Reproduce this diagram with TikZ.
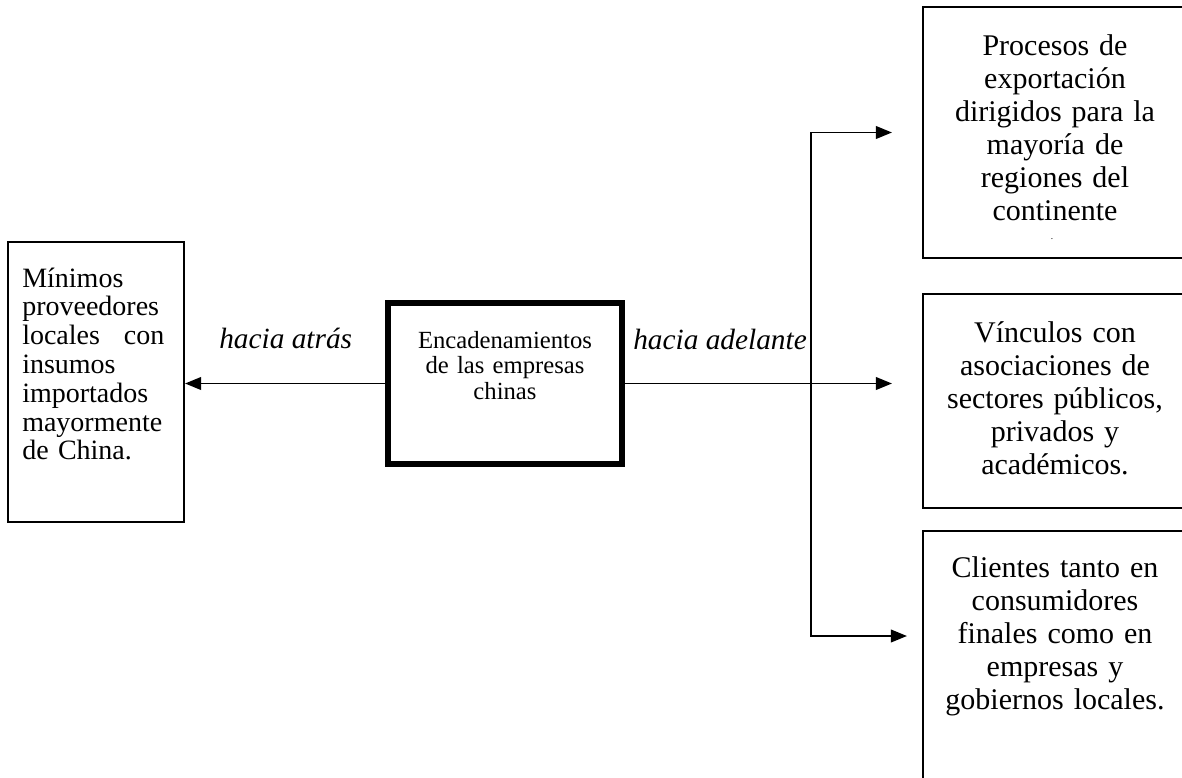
\documentclass[tikz,border=0pt]{standalone}
\usepackage{fontspec}
\setmainfont{Liberation Serif}
\usetikzlibrary{arrows.meta}

\begin{document}
\begin{tikzpicture}[x=0.75pt,y=-0.75pt,
  frame/.style={draw, line width=1.6pt, inner sep=0pt},
  mainframe/.style={draw, line width=4pt, inner sep=0pt},
  sidetext/.style={anchor=base, inner sep=0pt, text width=170pt, align=center,
    font=\fontsize{22.5}{24.9}\selectfont},
  lefttext/.style={anchor=base west, inner sep=0pt, text width=106.5pt, align=left,
    font=\fontsize{21}{21.6}\selectfont},
  maintext/.style={anchor=base, inner sep=0pt, text width=170pt, align=center,
    font=\fontsize{18.5}{19.2}\selectfont},
  linklabel/.style={anchor=base west, inner sep=0pt, font=\fontsize{22}{24}\selectfont\itshape},
  tip/.style={-{Triangle[length=12pt,width=9.5pt]}},
  link/.style={line width=1.3pt}
]
\useasboundingbox (0,0) rectangle (1182,778);
\clip (0,0) rectangle (1182,778);

% boxes
\node[frame, minimum width=132pt, minimum height=210pt] (sup) at (96,382) {};
\node[mainframe, minimum width=175.5pt, minimum height=120.75pt] (enc) at (505,383.5) {};
\node[frame, minimum width=198.75pt, minimum height=188.25pt] (exp) at (1055.5,132.5) {};
\node[frame, minimum width=198.75pt, minimum height=160.5pt] (vin) at (1055.5,401) {};
\node[frame, minimum width=198.75pt, minimum height=202.5pt] (cli) at (1055.5,666) {};

% box texts
\node[lefttext] (supt) at (22,287) {M\'inimos\\ proveedores\\ locales\hfill con\\ insumos\\ importados\\ mayormente\\ de China.};
\node[maintext] (enct) at (505,348) {Encadenamientos\\ de las empresas\\ chinas};
\node[sidetext] (expt) at (1055,55) {Procesos de\\ exportaci\'on\\ dirigidos para la\\ mayor\'ia de\\ regiones del\\ continente};
\node[anchor=base, inner sep=0pt, font=\fontsize{7}{7}\selectfont] (expdot) at (1052,239) {.};
\node[sidetext] (vint) at (1055,342) {V\'inculos con\\ asociaciones de\\ sectores p\'ublicos,\\ privados y\\ acad\'emicos.};
\node[sidetext] (clit) at (1055,577) {Clientes tanto en\\ consumidores\\ finales como en\\ empresas y\\ gobiernos locales.};

% link labels
\node[linklabel] (back) at (219,348) {hacia atr\'as};
\node[linklabel] (fwd) at (633,349) {hacia adelante};

% branch points
\coordinate (jt) at (811,132.5);
\coordinate (jb) at (811,636);

% connectors
\draw[link, tip] (enc.west) -- (enc.west -| sup.east);
\draw[link, tip, shorten >=22.5pt] (enc.east) -- (enc.east -| vin.west);
\draw[link, {Triangle[length=12pt,width=9.5pt]}-{Triangle[length=12pt,width=9.5pt]},
  shorten <=22.5pt, shorten >=11.25pt]
  (exp.west) -- (jt) -- (jb) -- (jb -| cli.west);
\end{tikzpicture}
\end{document}
